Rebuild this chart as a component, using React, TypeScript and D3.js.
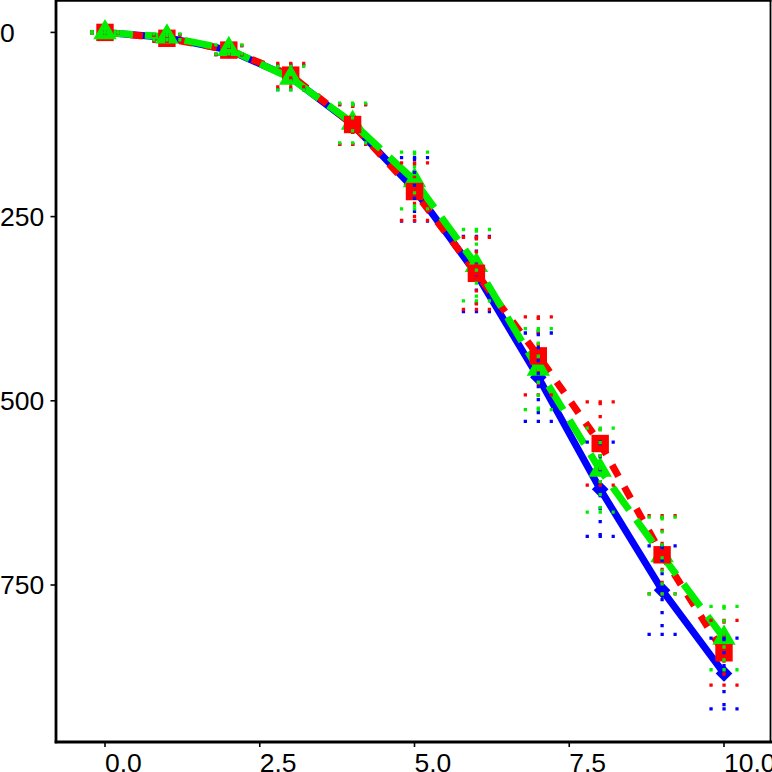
import React from "react";
import * as d3 from "d3";

const xs = [0, 1, 2, 3, 4, 5, 6, 7, 8, 9, 10];
const blueY = [0, 7, 24, 61, 125, 213, 328, 468, 620, 757, 870];
const blueErr = [1, 4, 6, 16.5, 27, 43, 51, 60, 64, 60, 48];
const redY = [0, 8, 24, 58, 125, 216, 327, 439, 558, 709, 842];
const redErr = [1, 4, 6, 16, 27, 39, 49, 53, 56.5, 53, 44];
const greenY = [0, 6, 23, 62, 123, 201, 316, 457, 594, 710, 822];
const greenErr = [1, 4, 6, 16, 27, 38.5, 48.5, 55, 57, 52, 43];

const xTicks = [0, 2.5, 5, 7.5, 10];
const xTickLabels = ["0.0", "2.5", "5.0", "7.5", "10.0"];
const yTicks = [0, 250, 500, 750];
const yTickLabels = ["0", "250", "500", "750"];

const W = 772;
const H = 772;
const FONT = "'Liberation Sans', Arial, Helvetica, sans-serif";

const BLUE = "#0000ff";
const RED = "#ff0000";
const GREEN = "#00ee00";

export default function App() {
  const x = d3.scaleLinear().domain([0, 10]).range([105, 724]);
  const y = d3.scaleLinear().domain([0, 750]).range([32.4, 585]);

  const panelLeft = 56;
  const panelRight = 770.5;
  const panelTop = 0.8;
  const panelBottom = 742;

  const line = d3
    .line<number>()
    .x((_, i) => x(xs[i]))
    .y((d) => y(d));

  const series = [
    { key: "blue", vals: blueY, err: blueErr, color: BLUE, dash: undefined },
    { key: "red", vals: redY, err: redErr, color: RED, dash: "13 12" },
    { key: "green", vals: greenY, err: greenErr, color: GREEN, dash: "28 12" },
  ];

  const capHalf = 14.6;
  const dotDash = "3.3 9.7";

  const diamond = (cx: number, cy: number, r: number) =>
    `M${cx},${cy - r}L${cx + r},${cy}L${cx},${cy + r}L${cx - r},${cy}Z`;
  const tri = (cx: number, cy: number, r: number) =>
    `M${cx},${cy - r}L${cx + 0.866 * r},${cy + r / 2}L${cx - 0.866 * r},${cy + r / 2}Z`;

  const redMarker = (i: number) => (
    <rect
      key={"r" + i}
      x={x(xs[i]) - 8.7}
      y={y(redY[i]) - 8.7}
      width={17.4}
      height={17.4}
      fill={RED}
    />
  );
  const greenMarker = (i: number) => (
    <path key={"g" + i} d={tri(x(xs[i]), y(greenY[i]), 13.5)} fill={GREEN} />
  );

  return (
    <div style={{ position: "absolute", left: 0, top: 0 }}>
      <svg width={W} height={H} style={{ display: "block", background: "#fff" }}>
        <defs>
          <clipPath id="panel">
            <rect x={panelLeft} y={panelTop} width={panelRight - panelLeft} height={panelBottom - panelTop} />
          </clipPath>
        </defs>
        <rect x={0} y={0} width={W} height={H} fill="#fff" />
        <g clipPath="url(#panel)">
          {series.map((s) => (
            <path
              key={"l" + s.key}
              d={line(s.vals) || ""}
              fill="none"
              stroke={s.color}
              strokeWidth={7}
              strokeDasharray={s.dash}
              strokeLinejoin="round"
              strokeLinecap="butt"
            />
          ))}
          {blueY.map((v, i) => (
            <path key={"b" + i} d={diamond(x(xs[i]), y(v), 8.3)} fill={BLUE} />
          ))}
          {xs.map((_, i) =>
            i <= 3 ? (
              <g key={"m" + i}>
                {redMarker(i)}
                {greenMarker(i)}
              </g>
            ) : (
              <g key={"m" + i}>
                {greenMarker(i)}
                {redMarker(i)}
              </g>
            )
          )}
          {series.map((s) => (
            <g key={"e" + s.key} stroke={s.color} strokeWidth={3.3} strokeDasharray={dotDash} fill="none">
              {s.vals.map((v, i) => {
                const cx = x(xs[i]);
                const yTop = y(v - s.err[i]);
                const yBot = y(v + s.err[i]);
                return (
                  <g key={i}>
                    <line x1={cx - capHalf} x2={cx + capHalf} y1={yTop} y2={yTop} />
                    <line x1={cx} x2={cx} y1={yTop} y2={yBot} />
                    <line x1={cx - capHalf} x2={cx + capHalf} y1={yBot} y2={yBot} />
                  </g>
                );
              })}
            </g>
          ))}
        </g>
        {/* panel border */}
        <line x1={panelLeft} x2={panelRight + 1} y1={panelTop} y2={panelTop} stroke="#000" strokeWidth={1.8} />
        <line x1={panelRight} x2={panelRight} y1={0} y2={panelBottom} stroke="#000" strokeWidth={1.8} />
        {/* axes */}
        <line x1={panelLeft} x2={panelLeft} y1={0} y2={panelBottom + 1.3} stroke="#000" strokeWidth={2.8} />
        <line x1={panelLeft - 1.3} x2={W} y1={panelBottom} y2={panelBottom} stroke="#000" strokeWidth={2.8} />
        {yTicks.map((t, i) => (
          <g key={"yt" + i}>
            <line x1={panelLeft - 5.5} x2={panelLeft} y1={y(t)} y2={y(t)} stroke="#000" strokeWidth={1.6} />
            <text x={0} y={y(t) + 9.4} fontFamily={FONT} fontSize={26.5} fill="#000" textAnchor="start">
              {yTickLabels[i]}
            </text>
          </g>
        ))}
        {xTicks.map((t, i) => (
          <g key={"xt" + i}>
            <line x1={x(t)} x2={x(t)} y1={panelBottom} y2={panelBottom + 5} stroke="#000" strokeWidth={1.6} />
            <text x={x(t)} y={772} fontFamily={FONT} fontSize={26.5} fill="#000" textAnchor="start">
              {xTickLabels[i]}
            </text>
          </g>
        ))}
      </svg>
    </div>
  );
}
